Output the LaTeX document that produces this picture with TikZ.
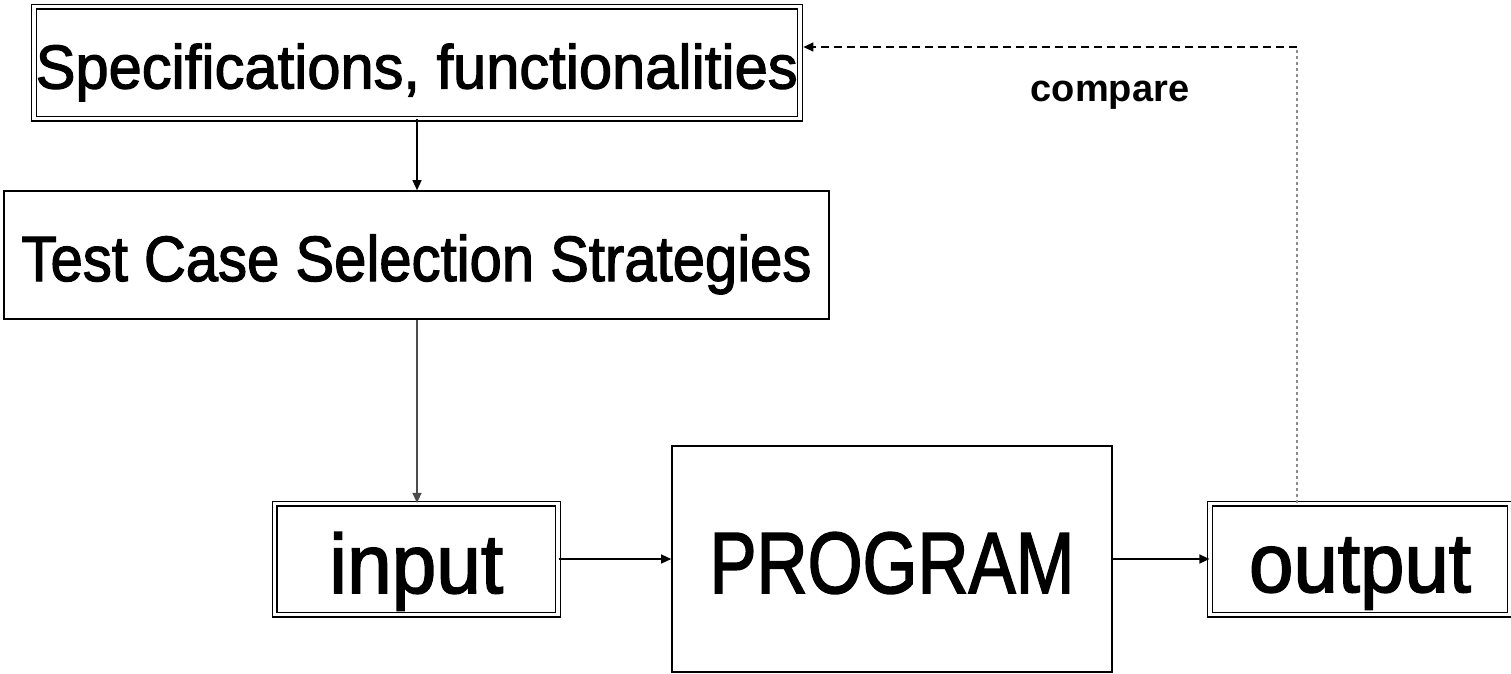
\documentclass[tikz,border=0pt]{standalone}
\usepackage{fontspec}
\setmainfont{Liberation Sans}
\newfontfamily\semib[FakeBold=2]{Liberation Sans}
\usetikzlibrary{arrows.meta}
\newcommand{\fitw}[2]{\resizebox{#1}{\height}{#2}}
\tikzset{
  box/.style={draw, line width=1.6pt, rectangle, inner sep=0pt, text depth=0pt},
  dbox/.style={draw, double, double distance=3.6pt, line width=1.2pt, rectangle, inner sep=0pt, text depth=0pt},
  conn/.style={line width=1.3pt, -{Triangle[length=10pt,width=9pt]}},
}
\begin{document}
\begin{tikzpicture}[x=1pt,y=-1pt]
\useasboundingbox[fill=white] (0,0) rectangle (1511,673);
\node[dbox, minimum width=766pt, minimum height=112pt, text height=52pt] (spec) at (416.75,62.5)
  {\fontsize{62}{62}\selectfont\semib\fitw{762pt}{Specifications, functionalities}};
\node[box, minimum width=825pt, minimum height=128pt, text height=52pt] (test) at (416.5,255)
  {\fontsize{64}{64}\selectfont\semib\fitw{790pt}{Test Case Selection Strategies}};
\node[dbox, minimum width=283.5pt, minimum height=111pt, text height=68pt] (in) at (416.25,559)
  {\fontsize{84}{84}\selectfont\semib\fitw{174pt}{input}};
\node[box, minimum width=440pt, minimum height=226pt, text height=68pt] (prog) at (892,559)
  {\fontsize{87}{87}\selectfont\semib\fitw{365pt}{PROGRAM}};
\node[dbox, minimum width=300pt, minimum height=111pt, text height=66pt] (out) at (1360,559)
  {\fontsize{84}{84}\selectfont\semib\fitw{222pt}{output}};
\node[font=\bfseries\fontsize{38}{38}\selectfont, anchor=base, inner sep=0pt] (cmp) at (1110,101) {compare};
\coordinate (c1) at (1297,47);
\draw[conn] (spec.south -| 417,0) -- (test.north -| 417,0);
\draw[conn, black!70] (test.south -| 417,0) -- (in.north -| 417,0);
\draw[conn] (in.east) -- (prog.west);
\draw[conn] (prog.east) -- (out.west);
\draw[line width=1.3pt, dash pattern=on 3pt off 3pt, black!45] (c1 |- out.north) -- (c1);
\draw[line width=1.3pt, dash pattern=on 8pt off 5pt, -{Triangle[length=10pt,width=9pt]}] (c1) -- ([xshift=3pt]c1 -| spec.east);
\end{tikzpicture}
\end{document}
